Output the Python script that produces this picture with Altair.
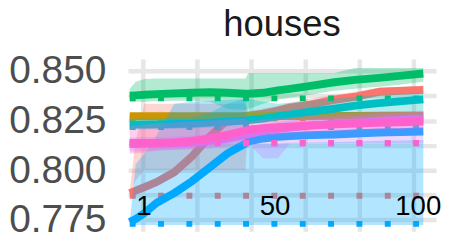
import altair as alt
import pandas as pd

# ---------------- data ----------------
xs = [1, 3, 6, 10, 16, 22, 28, 34, 40, 41, 46, 51, 55, 62, 70, 77, 85, 92, 100]

series_names = ["red", "orange", "green", "teal", "blue", "purple", "pink"]
series_colors = ["#F8766D", "#CD9600", "#00BE67", "#00BFC4", "#00A9FF", "#C77CFF", "#FF61CC"]

red_y  = [0.7885, 0.7897, 0.7915, 0.7940, 0.7990, 0.8070, 0.8170, 0.8255, 0.8272, 0.8275, 0.8285, 0.8300, 0.8315, 0.8330, 0.8355, 0.8370, 0.8395, 0.8400, 0.8405]
red_lo = [0.7875, 0.7950, 0.8000, 0.8000, 0.8000, 0.8000, 0.8000, 0.8000, 0.8000, 0.8245, 0.8260, 0.8275, 0.8290, 0.8310, 0.8330, 0.8350, 0.8375, 0.8380, 0.8385]
red_hi = [0.7895, 0.8150, 0.8335, 0.8335, 0.8335, 0.8335, 0.8335, 0.8335, 0.8335, 0.8295, 0.8310, 0.8325, 0.8340, 0.8360, 0.8380, 0.8395, 0.8415, 0.8420, 0.8425]

orange_y  = [0.8272, 0.8272, 0.8272, 0.8272, 0.8272, 0.8272, 0.8272, 0.8272, 0.8272, 0.8272, 0.8272, 0.8273, 0.8273, 0.8273, 0.8274, 0.8274, 0.8275, 0.8275, 0.8275]
orange_lo = [0.8260, 0.8260, 0.8260, 0.8260, 0.8260, 0.8260, 0.8260, 0.8260, 0.8260, 0.8260, 0.8260, 0.8261, 0.8261, 0.8261, 0.8262, 0.8262, 0.8263, 0.8263, 0.8263]
orange_hi = [0.8285, 0.8285, 0.8285, 0.8285, 0.8285, 0.8285, 0.8285, 0.8285, 0.8285, 0.8285, 0.8285, 0.8286, 0.8286, 0.8286, 0.8287, 0.8287, 0.8288, 0.8288, 0.8288]

green_y  = [0.8375, 0.8377, 0.8380, 0.8383, 0.8387, 0.8390, 0.8393, 0.8390, 0.8385, 0.8385, 0.8390, 0.8402, 0.8410, 0.8425, 0.8443, 0.8455, 0.8465, 0.8475, 0.8487]
green_lo = [0.8345, 0.8345, 0.8345, 0.8348, 0.8350, 0.8350, 0.8345, 0.8310, 0.8305, 0.8310, 0.8335, 0.8355, 0.8365, 0.8380, 0.8400, 0.8410, 0.8420, 0.8430, 0.8445]
green_hi = [0.8410, 0.8445, 0.8460, 0.8462, 0.8462, 0.8462, 0.8462, 0.8462, 0.8462, 0.8490, 0.8490, 0.8490, 0.8490, 0.8490, 0.8490, 0.8515, 0.8515, 0.8515, 0.8515]

teal_y  = [0.8230, 0.8230, 0.8230, 0.8231, 0.8233, 0.8235, 0.8240, 0.8245, 0.8250, 0.8252, 0.8260, 0.8272, 0.8280, 0.8295, 0.8310, 0.8325, 0.8338, 0.8347, 0.8357]
teal_lo = [0.8205, 0.8205, 0.8205, 0.8206, 0.8208, 0.8210, 0.8215, 0.8220, 0.8235, 0.8245, 0.8250, 0.8255, 0.8255, 0.8256, 0.8256, 0.8257, 0.8257, 0.8258, 0.8258]
teal_hi = [0.8260, 0.8260, 0.8260, 0.8261, 0.8263, 0.8265, 0.8290, 0.8335, 0.8360, 0.8360, 0.8345, 0.8335, 0.8340, 0.8350, 0.8360, 0.8370, 0.8380, 0.8385, 0.8390]

blue_y  = [0.7740, 0.7755, 0.7785, 0.7835, 0.7885, 0.7945, 0.8015, 0.8085, 0.8135, 0.8145, 0.8160, 0.8168, 0.8172, 0.8177, 0.8180, 0.8185, 0.8190, 0.8192, 0.8195]
blue_lo = [0.7725, 0.7725, 0.7725, 0.7725, 0.7725, 0.7725, 0.7725, 0.7725, 0.7725, 0.7725, 0.7725, 0.7725, 0.7725, 0.7725, 0.7725, 0.7725, 0.7725, 0.7725, 0.7725]
blue_hi = [0.7735, 0.8030, 0.8085, 0.8174, 0.8335, 0.8345, 0.8350, 0.8355, 0.8360, 0.8135, 0.8135, 0.8135, 0.8138, 0.8140, 0.8142, 0.8145, 0.8148, 0.8150, 0.8152]

purple_y  = [0.8132, 0.8132, 0.8133, 0.8134, 0.8136, 0.8140, 0.8148, 0.8160, 0.8178, 0.8182, 0.8198, 0.8208, 0.8215, 0.8225, 0.8233, 0.8240, 0.8248, 0.8254, 0.8260]
purple_lo = [0.8095, 0.8095, 0.8097, 0.8100, 0.8102, 0.8105, 0.8110, 0.8120, 0.8135, 0.8135, 0.8060, 0.8060, 0.8135, 0.8135, 0.8135, 0.8135, 0.8135, 0.8135, 0.8135]
purple_hi = [0.8165, 0.8165, 0.8167, 0.8168, 0.8170, 0.8175, 0.8183, 0.8195, 0.8213, 0.8217, 0.8233, 0.8243, 0.8250, 0.8260, 0.8268, 0.8275, 0.8283, 0.8289, 0.8295]

pink_y  = [0.8138, 0.8138, 0.8138, 0.8138, 0.8140, 0.8148, 0.8160, 0.8178, 0.8200, 0.8204, 0.8212, 0.8217, 0.8220, 0.8226, 0.8231, 0.8235, 0.8239, 0.8242, 0.8245]
pink_lo = [0.8085, 0.8085, 0.8090, 0.8100, 0.8105, 0.8110, 0.8120, 0.8135, 0.8155, 0.8165, 0.8175, 0.8180, 0.8183, 0.8190, 0.8195, 0.8200, 0.8205, 0.8208, 0.8212]
pink_hi = [0.8220, 0.8225, 0.8230, 0.8235, 0.8240, 0.8245, 0.8250, 0.8255, 0.8260, 0.8245, 0.8255, 0.8262, 0.8267, 0.8275, 0.8282, 0.8288, 0.8293, 0.8297, 0.8300]

baseline_values = [0.7872, 0.8262, 0.8362, 0.8218, 0.7730, 0.8135, 0.8138]
baseline_from = 1
baseline_to = 100

y_grid_values = [0.775, 0.7875, 0.8, 0.8125, 0.825, 0.8375, 0.85]
x_grid_values = [5.41, 23.67, 41.93, 60.18, 78.43, 96.69]
x_tick_labels = ["1", "50", "100"]
x_tick_at = [5.75, 50.0, 98.3]
title_text = "houses"

# ---------------- tables ----------------
lines = {
    "red": (red_y, red_lo, red_hi),
    "orange": (orange_y, orange_lo, orange_hi),
    "green": (green_y, green_lo, green_hi),
    "teal": (teal_y, teal_lo, teal_hi),
    "blue": (blue_y, blue_lo, blue_hi),
    "purple": (purple_y, purple_lo, purple_hi),
    "pink": (pink_y, pink_lo, pink_hi),
}
rows = []
for name in series_names:
    y, lo, hi = lines[name]
    for i, x in enumerate(xs):
        rows.append({"series": name, "x": x, "y": y[i], "lo": lo[i], "hi": hi[i]})
df = pd.DataFrame(rows)
base_df = pd.DataFrame({"series": series_names, "b": baseline_values,
                        "x0": baseline_from, "x1": baseline_to})
lab_df = pd.DataFrame({"label": x_tick_labels, "x": x_tick_at})
title_df = pd.DataFrame({"t": [title_text]})

FONT = "Liberation Sans"
W, H = 313, 175
xscale = alt.Scale(domain=[0.436, 104.31], nice=False, zero=False)
yscale = alt.Scale(domain=[0.7693, 0.856], nice=False, zero=False)
xaxis = alt.Axis(values=x_grid_values, labels=False, ticks=False, domain=False, title=None,
                 grid=True, gridColor="#e6e6e6", gridWidth=4.5)
yaxis = alt.Axis(values=y_grid_values, format=".3f",
                 labelExpr="(round(datum.value*1000) % 25 == 0) ? datum.label : ''",
                 labelFontSize=39.5, labelFont=FONT, labelColor="#4d4d4d", labelPadding=22.5,
                 labelOffset=0, labelOverlap=False, ticks=False, tickSize=0, domain=False,
                 title=None, grid=True, gridColor="#e6e6e6", gridWidth=4.5)

def X(field):
    return alt.X(field, type="quantitative", scale=xscale, axis=xaxis)

def Y(field):
    return alt.Y(field, type="quantitative", scale=yscale, axis=yaxis)

layers = []
for name, col in zip(series_names, series_colors):
    d = alt.Chart(df).transform_filter(alt.datum.series == name)
    layers.append(d.mark_area(opacity=0.3, color=col, interpolate="linear").encode(
        x=X("x"), y=Y("lo"), y2="hi"))
    layers.append(alt.Chart(base_df).transform_filter(alt.datum.series == name).mark_rule(
        color=col, strokeWidth=6, strokeDash=[6, 22.8], strokeCap="butt").encode(
        x=X("x0"), x2="x1", y=Y("b")))
    layers.append(d.mark_line(color=col, strokeWidth=8, strokeCap="butt", strokeJoin="round").encode(
        x=X("x"), y=Y("y")))

# x tick labels drawn inside the plot, as in the reference
layers.append(alt.Chart(lab_df).mark_text(font=FONT, fontSize=28, color="#000000",
                                          baseline="alphabetic", align="center").encode(
    x=X("x"), y=alt.value(158.5), text="label:N"))

# panel title
layers.append(alt.Chart(title_df).mark_text(font=FONT, fontSize=37, color="#1a1a1a",
                                            baseline="alphabetic", align="center").encode(
    x=alt.value(W / 2), y=alt.value(-23), text="t:N"))

chart = alt.layer(*layers).properties(
    width=W, height=H,
    autosize=alt.AutoSizeParams(type="none"),
    padding={"left": 122, "top": 50, "right": 5, "bottom": 4},
).configure_view(stroke=None)

chart.save("out.html", embed_options={"renderer": "svg", "actions": False})
